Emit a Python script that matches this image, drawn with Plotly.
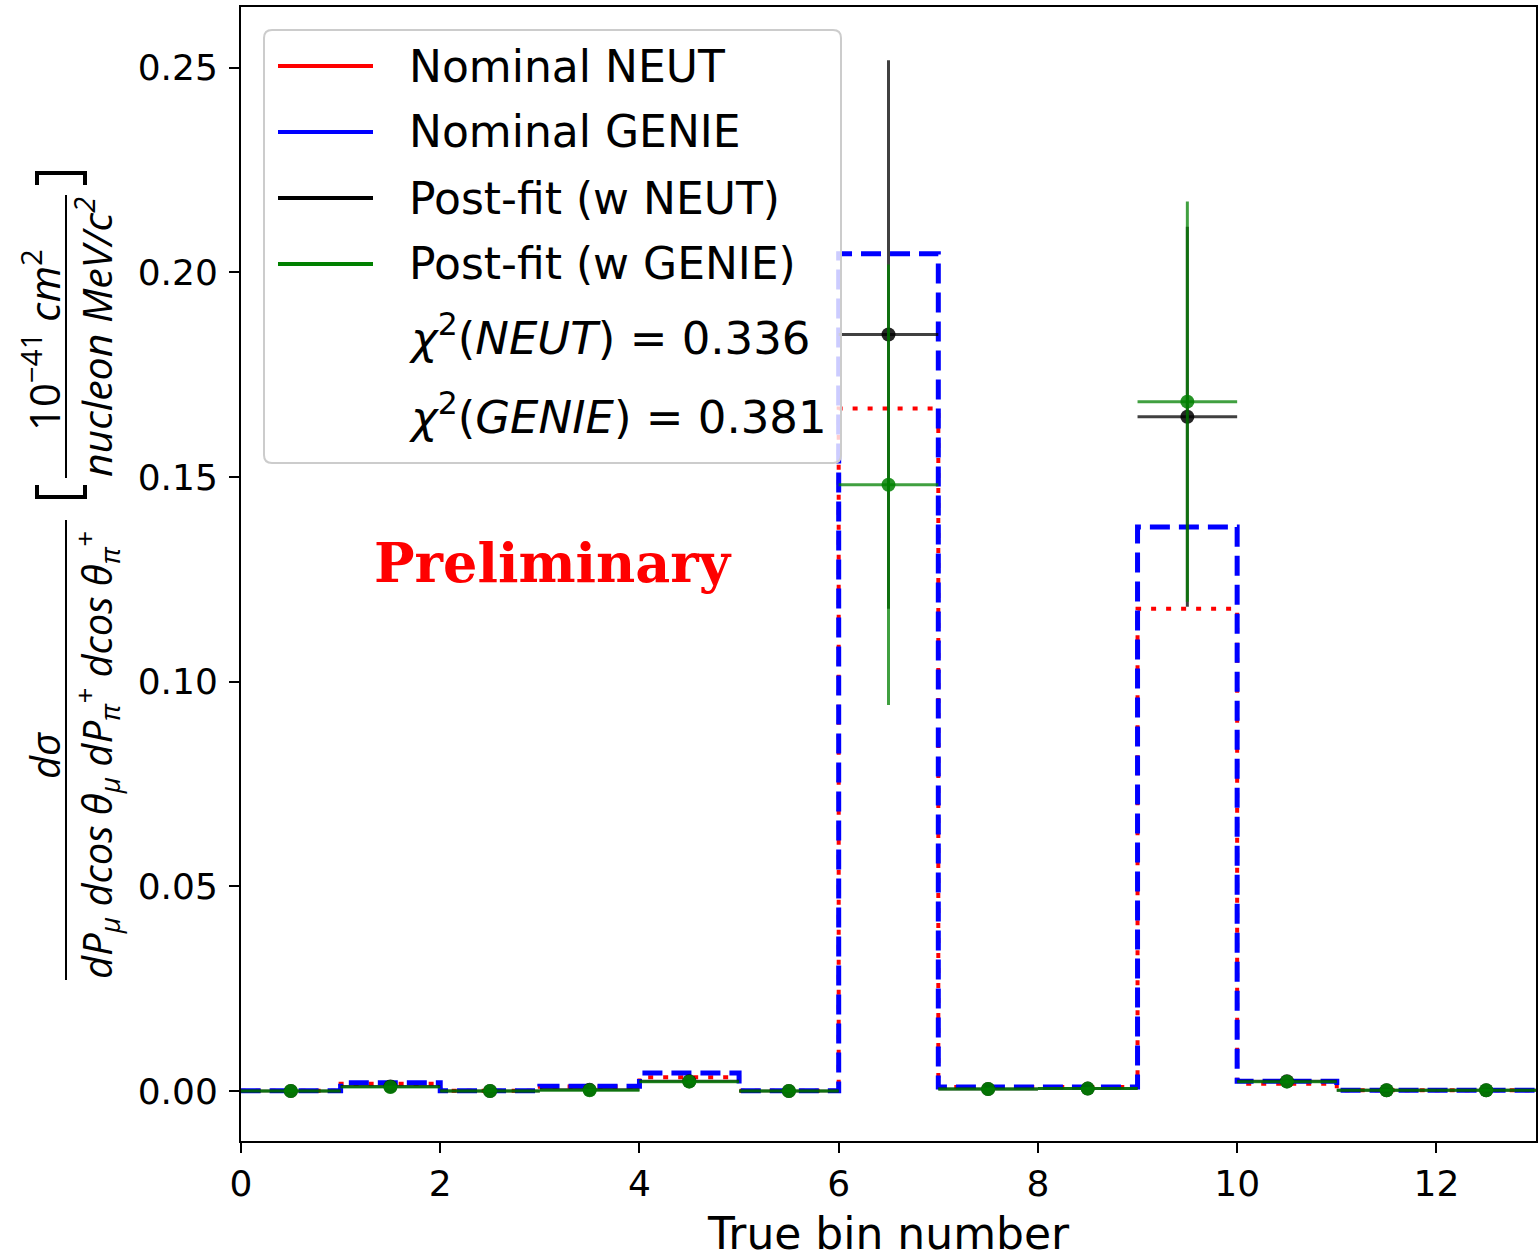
import plotly.graph_objects as go

# Binning: 13 true bins
bin_edges = list(range(0, 14))
bin_centers = [e + 0.5 for e in range(13)]

# Nominal generator predictions (per true bin)
neut_nominal = [0.0001, 0.0018, 0.0001, 0.0011, 0.0034, 0.0001, 0.1667,
                0.0010, 0.0010, 0.1178, 0.0018, 0.0002, 0.0002]
genie_nominal = [0.0001, 0.0020, 0.0001, 0.0012, 0.0044, 0.0001, 0.2045,
                 0.0010, 0.0010, 0.1378, 0.0024, 0.0002, 0.0002]

# Post-fit results with uncertainties
postfit_neut = [0.0000, 0.0011, 0.0000, 0.0003, 0.0024, 0.0000, 0.1848,
                0.0005, 0.0006, 0.1647, 0.0024, 0.0002, 0.0002]
postfit_neut_err = [0.0001, 0.0003, 0.0001, 0.0002, 0.0005, 0.0001, 0.0670,
                    0.0002, 0.0002, 0.0464, 0.0004, 0.0001, 0.0001]
postfit_genie = [0.0000, 0.0010, 0.0000, 0.0002, 0.0023, 0.0000, 0.1481,
                 0.0005, 0.0006, 0.1684, 0.0023, 0.0002, 0.0002]
postfit_genie_err = [0.0001, 0.0003, 0.0001, 0.0002, 0.0005, 0.0001, 0.0538,
                     0.0002, 0.0002, 0.0489, 0.0004, 0.0001, 0.0001]

legend_labels = ["Nominal NEUT", "Nominal GENIE", "Post-fit (w NEUT)", "Post-fit (w GENIE)"]
chi2_labels = ["NEUT", "GENIE"]
chi2_values = [0.336, 0.381]

x_range = [0, 13]
y_range = [-0.0122, 0.2648]
x_ticks = [0, 2, 4, 6, 8, 10, 12]
y_ticks = [0.00, 0.05, 0.10, 0.15, 0.20, 0.25]

# Figure geometry (pixels)
FIG_W, FIG_H = 1539, 1259
M_L, M_R, M_T, M_B = 241, 3, 7, 118
PLOT_W = FIG_W - M_L - M_R
PLOT_H = FIG_H - M_T - M_B


def xp(px):
    """Pixel x -> paper x."""
    return (px - M_L) / PLOT_W


def yp(py):
    """Pixel y (from top) -> paper y."""
    return (FIG_H - M_B - py) / PLOT_H


def step_xy(edges, vals):
    xs = [edges[0]] + list(edges) + [edges[-1]]
    ys = [0.0] + list(vals) + [vals[-1], 0.0]
    return xs, ys


fig = go.Figure()

sx, sy = step_xy(bin_edges, neut_nominal)
fig.add_trace(go.Scatter(x=sx, y=sy, mode="lines", line_shape="hv",
                         line=dict(color="red", width=4, dash="5px,10px"),
                         name=legend_labels[0], showlegend=False, hoverinfo="skip"))
sx, sy = step_xy(bin_edges, genie_nominal)
fig.add_trace(go.Scatter(x=sx, y=sy, mode="lines", line_shape="hv",
                         line=dict(color="blue", width=5, dash="20px,9px"),
                         name=legend_labels[1], showlegend=False, hoverinfo="skip"))

for vals, errs, rgb, name in [(postfit_neut, postfit_neut_err, "0,0,0", legend_labels[2]),
                              (postfit_genie, postfit_genie_err, "0,128,0", legend_labels[3])]:
    fig.add_trace(go.Scatter(
        x=bin_centers, y=vals, mode="markers", name=name, showlegend=False,
        marker=dict(color=f"rgba({rgb},0.85)", size=14, line=dict(width=0)),
        error_y=dict(type="data", array=errs, visible=True, width=0,
                     thickness=3, color=f"rgba({rgb},0.75)"),
        error_x=dict(type="constant", value=0.5, visible=True, width=0,
                     thickness=3, color=f"rgba({rgb},0.75)"),
    ))

shapes = []
annotations = []

# Legend box (rounded, semi-transparent)
bx0, by0, bx1, by1, r = 264, 30, 841, 463, 8
rx, ry = r / PLOT_W, r / PLOT_H
X0, X1, Y0, Y1 = xp(bx0), xp(bx1), yp(by0), yp(by1)
path = (f"M {X0+rx},{Y0} L {X1-rx},{Y0} Q {X1},{Y0} {X1},{Y0-ry} "
        f"L {X1},{Y1+ry} Q {X1},{Y1} {X1-rx},{Y1} L {X0+rx},{Y1} "
        f"Q {X0},{Y1} {X0},{Y1+ry} L {X0},{Y0-ry} Q {X0},{Y0} {X0+rx},{Y0} Z")
shapes.append(dict(type="path", path=path, xref="paper", yref="paper",
                   line=dict(color="#cccccc", width=2),
                   fillcolor="rgba(255,255,255,0.8)", layer="above"))

legend_font = dict(family="DejaVu Sans", size=44, color="black")
legend_colors = ["red", "blue", "black", "green"]
row_y = [66, 132, 198, 264]
for lbl, col, y in zip(legend_labels, legend_colors, row_y):
    shapes.append(dict(type="line", xref="paper", yref="paper",
                       x0=xp(278), x1=xp(373), y0=yp(y), y1=yp(y),
                       line=dict(color=col, width=4), layer="above"))
    annotations.append(dict(text=lbl, xref="paper", yref="paper", x=xp(407), y=yp(y),
                            xanchor="left", yanchor="middle", showarrow=False,
                            font=legend_font))
for lbl, val, y in zip(chi2_labels, chi2_values, [336, 414]):
    annotations.append(dict(text=f"<i>χ</i><sup>2</sup>(<i>{lbl}</i>) = {val:.3f}",
                            xref="paper", yref="paper", x=xp(407), y=yp(y),
                            xanchor="left", yanchor="middle", showarrow=False,
                            font=dict(family="DejaVu Sans", size=45, color="black")))

# Watermark
annotations.append(dict(text="Preliminary", xref="paper", yref="paper",
                        x=xp(553), y=yp(563), xanchor="center", yanchor="middle",
                        showarrow=False,
                        font=dict(family="DejaVu Serif", size=54, color="red",
                                  weight="bold")))

# Y-axis label built from rotated pieces
ylab_italic = dict(family="Open Sans", size=40, color="black", style="italic")
ylab_parts = [
    dict(text="dσ", x=xp(44), y=yp(755), font=ylab_italic),
    dict(text="dP<sub>μ</sub> dcos θ<sub>μ</sub> dP<sub>π</sub><sup>+</sup> "
              "dcos θ<sub>π</sub><sup>+</sup>", x=xp(96), y=yp(755), font=ylab_italic),
    dict(text="10<sup>−41</sup> <i>cm</i><sup>2</sup>", x=xp(42), y=yp(340),
         font=dict(family="Open Sans", size=42, color="black")),
    dict(text="nucleon MeV/c<sup>2</sup>", x=xp(94), y=yp(337),
         font=dict(family="Open Sans", size=41, color="black", style="italic")),
]
for a in ylab_parts:
    a.update(xref="paper", yref="paper", xanchor="center", yanchor="middle",
             showarrow=False, textangle=-90)
annotations += ylab_parts

for y_a, y_b in [(520, 980), (195, 478)]:
    shapes.append(dict(type="line", xref="paper", yref="paper",
                       x0=xp(66), x1=xp(66), y0=yp(y_a), y1=yp(y_b),
                       line=dict(color="black", width=2)))
# brackets around the unit
shapes.append(dict(type="path", xref="paper", yref="paper",
                   path=f"M {xp(37)},{yp(185)} L {xp(37)},{yp(173)} L {xp(85)},{yp(173)} L {xp(85)},{yp(185)}",
                   line=dict(color="black", width=4)))
shapes.append(dict(type="path", xref="paper", yref="paper",
                   path=f"M {xp(37)},{yp(485)} L {xp(37)},{yp(497)} L {xp(85)},{yp(497)} L {xp(85)},{yp(485)}",
                   line=dict(color="black", width=4)))

axis_common = dict(showgrid=False, zeroline=False, showline=True, mirror=True,
                   linecolor="black", linewidth=2, ticks="outside", ticklen=10,
                   tickwidth=2, tickcolor="black", automargin=False,
                   tickfont=dict(family="DejaVu Sans", size=36, color="black"))

fig.update_layout(
    width=FIG_W, height=FIG_H,
    margin=dict(l=M_L, r=M_R, t=M_T, b=M_B, autoexpand=False),
    paper_bgcolor="white", plot_bgcolor="white",
    showlegend=False,
    xaxis=dict(range=x_range, tickvals=x_ticks, ticktext=[str(t) for t in x_ticks],
               title=dict(text="True bin number", standoff=29,
                          font=dict(family="DejaVu Sans", size=44, color="black")),
               **axis_common),
    yaxis=dict(range=y_range, tickvals=y_ticks, ticktext=[f"{t:.2f}" for t in y_ticks],
               ticklabelstandoff=4, **axis_common),
    shapes=shapes,
    annotations=annotations,
)

fig.write_html("out.html")
